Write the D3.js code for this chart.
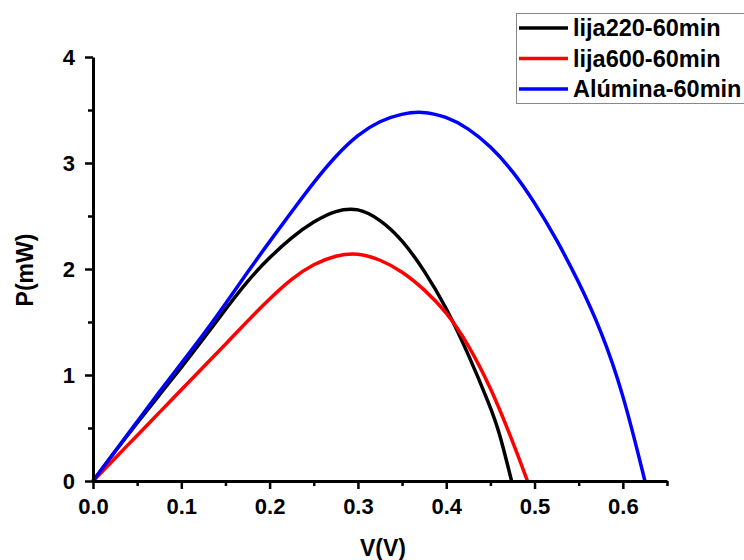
<!DOCTYPE html>
<html>
<head>
<meta charset="utf-8">
<script src="https://cdn.jsdelivr.net/npm/d3@7"></script>
<style>
  html, body { margin: 0; padding: 0; background: #fff; }
  svg { display: block; font-family: "Liberation Sans", Arial, sans-serif; }
</style>
</head>
<body>
<div id="chart"></div>
<script>
// P-V curves
const seriesNames = ['lija220-60min', 'lija600-60min', 'Alúmina-60min'];
const seriesColors = ['#000000', '#ff0000', '#0000ff'];

const v220 = [0, 0.025, 0.05, 0.075, 0.1, 0.125, 0.15, 0.175, 0.2, 0.225, 0.25, 0.275, 0.3, 0.325, 0.35, 0.375, 0.4, 0.425, 0.45, 0.46, 0.474];
const p220 = [0, 0.28, 0.55, 0.81, 1.07, 1.34, 1.62, 1.89, 2.11, 2.30, 2.45, 2.555, 2.58, 2.47, 2.28, 1.99, 1.64, 1.20, 0.70, 0.47, 0];

const v600 = [0, 0.025, 0.05, 0.075, 0.1, 0.125, 0.15, 0.175, 0.2, 0.225, 0.25, 0.275, 0.3, 0.325, 0.35, 0.375, 0.4, 0.425, 0.45, 0.475, 0.492];
const p600 = [0, 0.215, 0.43, 0.645, 0.86, 1.075, 1.29, 1.51, 1.72, 1.91, 2.05, 2.13, 2.155, 2.09, 1.98, 1.81, 1.60, 1.29, 0.89, 0.38, 0];

const vAl = [0, 0.025, 0.05, 0.075, 0.1, 0.125, 0.15, 0.175, 0.2, 0.225, 0.25, 0.275, 0.3, 0.325, 0.35, 0.372, 0.4, 0.425, 0.45, 0.475, 0.5, 0.525, 0.55, 0.575, 0.6, 0.625];
const pAl = [0, 0.28, 0.56, 0.84, 1.11, 1.38, 1.67, 1.97, 2.26, 2.54, 2.82, 3.07, 3.27, 3.40, 3.465, 3.49, 3.44, 3.33, 3.16, 2.93, 2.63, 2.28, 1.88, 1.43, 0.84, 0];

const xTicks = [0, 0.1, 0.2, 0.3, 0.4, 0.5, 0.6];
const xMinor = [0.05, 0.15, 0.25, 0.35, 0.45, 0.55, 0.65];
const yTicks = [0, 1, 2, 3, 4];
const yMinor = [0.5, 1.5, 2.5, 3.5];

const W = 744, H = 560;
const svg = d3.select('#chart').append('svg')
  .attr('width', W).attr('height', H);

const x = d3.scaleLinear().domain([0, 0.65]).range([93, 667]);
const y = d3.scaleLinear().domain([0, 4]).range([481, 57]);

const series = [
  { v: v220, p: p220 },
  { v: v600, p: p600 },
  { v: vAl, p: pAl }
];

const line = d3.line()
  .x(d => x(d[0]))
  .y(d => y(d[1]))
  .curve(d3.curveBasis);

series.forEach((s, i) => {
  svg.append('path')
    .datum(s.v.map((v, j) => [v, s.p[j]]))
    .attr('fill', 'none')
    .attr('stroke', seriesColors[i])
    .attr('stroke-width', 3.5)
    .attr('stroke-linejoin', 'round')
    .attr('d', line);
});

// minor ticks
svg.append('g')
  .attr('transform', `translate(0,${y(0)})`)
  .call(d3.axisBottom(x).tickValues(xMinor).tickSize(5).tickFormat(''))
  .call(g => g.select('.domain').remove())
  .selectAll('line').attr('stroke-width', 2.5);

svg.append('g')
  .attr('transform', `translate(${x(0)},0)`)
  .call(d3.axisLeft(y).tickValues(yMinor).tickSize(5).tickFormat(''))
  .call(g => g.select('.domain').remove())
  .selectAll('line').attr('stroke-width', 2.5);

// major axes
const xAxis = svg.append('g')
  .attr('transform', `translate(0,${y(0)})`)
  .call(d3.axisBottom(x).tickValues(xTicks).tickSize(8).tickSizeOuter(0).tickPadding(9)
    .tickFormat(d3.format('.1f')));

const yAxis = svg.append('g')
  .attr('transform', `translate(${x(0)},0)`)
  .call(d3.axisLeft(y).tickValues(yTicks).tickSize(8).tickSizeOuter(0).tickPadding(10)
    .tickFormat(d3.format('d')));

[xAxis, yAxis].forEach(g => {
  g.select('.domain').attr('stroke-width', 3).attr('stroke', '#000');
  g.selectAll('.tick line').attr('stroke-width', 2.5);
  g.selectAll('.tick text')
    .attr('font-family', '"Liberation Sans", Arial, sans-serif')
    .attr('font-size', '22px')
    .attr('font-weight', 'bold')
    .attr('fill', '#000');
});

// axis titles
svg.append('text')
  .attr('x', 383).attr('y', 556)
  .attr('text-anchor', 'middle')
  .attr('font-size', '23px').attr('font-weight', 'bold')
  .text('V(V)');

svg.append('text')
  .attr('transform', 'translate(33,270) rotate(-90)')
  .attr('text-anchor', 'middle')
  .attr('font-size', '23px').attr('font-weight', 'bold')
  .text('P(mW)');

// legend
const legend = svg.append('g');
legend.append('rect')
  .attr('x', 516.5).attr('y', 13.5)
  .attr('width', 260).attr('height', 90)
  .attr('fill', '#fff')
  .attr('stroke', '#888').attr('stroke-width', 1);

seriesNames.forEach((name, i) => {
  const ly = 28 + i * 30.5;
  legend.append('line')
    .attr('x1', 519).attr('x2', 568)
    .attr('y1', ly).attr('y2', ly)
    .attr('stroke', seriesColors[i]).attr('stroke-width', 3.5);
  legend.append('text')
    .attr('x', 573).attr('y', ly)
    .attr('dy', '0.36em')
    .attr('font-size', '23.5px').attr('font-weight', 'bold')
    .text(name);
});
</script>
</body>
</html>
